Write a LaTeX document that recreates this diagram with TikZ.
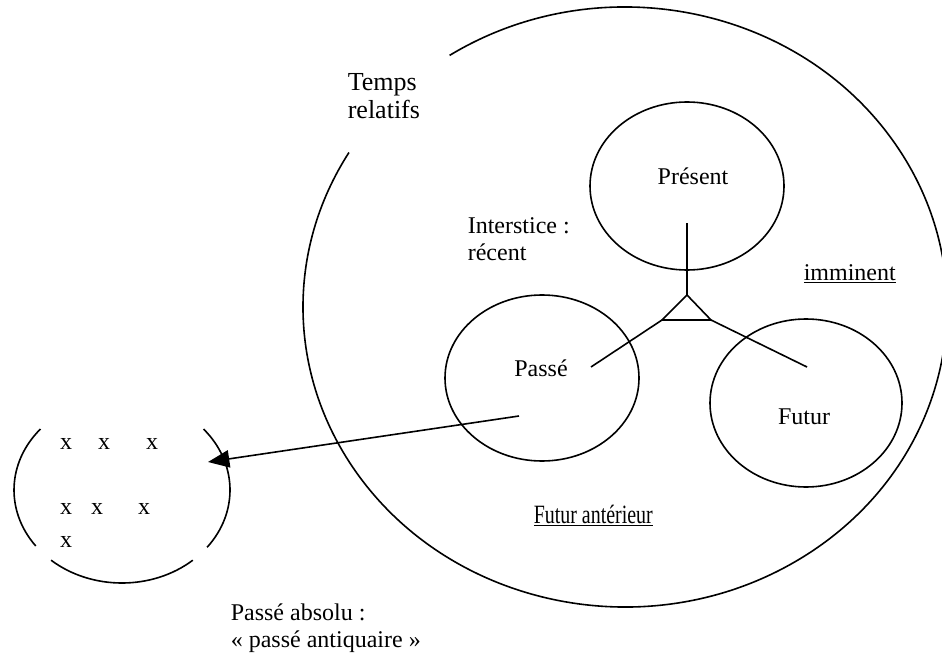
\documentclass[tikz,border=0pt]{standalone}
\usepackage{fontspec}
\setmainfont{Liberation Serif}
\usetikzlibrary{arrows.meta}

\tikzset{
  txt/.style={inner sep=0pt, font=\fontsize{18pt}{20.25pt}\selectfont},
  xmark/.style={txt, anchor=base},
}

\begin{document}
\begin{tikzpicture}[x=0.75pt,y=0.75pt,yscale=-1,xscale=1, line width=1.2pt]
\useasboundingbox (0,0) rectangle (942,656);

%Shape: Ellipse, big (Temps relatifs), open behind its label
\draw (449.6,55.4) arc[start angle=-123, end angle=211, x radius=322, y radius=300];
%Shape: Ellipse, Present
\draw (687,186) ellipse [x radius=97, y radius=84];
%Shape: Ellipse, Passe
\draw (542,378) ellipse [x radius=97, y radius=83];
%Shape: Ellipse, Futur
\draw (806,403) ellipse [x radius=96, y radius=84];
%Shape: Ellipse, small (Passe absolu), three pieces
\draw (40.5,429) arc[start angle=-139, end angle=-217, x radius=108, y radius=93];
\draw (51.1,560.2) arc[start angle=-229, end angle=-311, x radius=108, y radius=93];
\draw (207.1,547.3) arc[start angle=-322, end angle=-401, x radius=108, y radius=93];

%Shape: Triangle
\coordinate (apex) at (687,295);
\coordinate (baseL) at (662,320);
\coordinate (baseR) at (711,320);
\draw (apex) -- (baseL) -- (baseR) -- cycle;
%Straight Lines
\coordinate (presEnd) at (687,223);
\coordinate (passEnd) at (591,367);
\coordinate (futEnd) at (807,367);
\draw (apex) -- (presEnd);
\draw (baseL) -- (passEnd);
\draw (baseR) -- (futEnd);
%Straight Lines, arrow
\coordinate (arrStart) at (519,416);
\coordinate (arrTip) at (208,462);
\draw [-{Triangle[length=16pt,width=13pt]}] (arrStart) -- (arrTip);

% Text Node
\node (temps) [txt, anchor=north west, align=left, font=\fontsize{19.5pt}{20.7pt}\selectfont] at (347,73) {Temps\\relatifs};
\node (present) [txt, anchor=base] at (693,185) {Présent};
\node (interstice) [txt, anchor=north west, align=left] at (467,217) {Interstice :\\récent};
\node (imminent) [txt, anchor=base west] at (803,280) {\underline{imminent}};
\node (passe) [txt, anchor=base] at (541,376) {Passé};
\node (futur) [txt, anchor=base] at (804,424) {Futur};
\node (anterieur) [txt, anchor=base west] at (533,523) {\scalebox{0.83}[1.1]{\underline{Futur antérieur}}};
\node (absolu) [txt, anchor=north west, align=left] at (230,603) {Passé absolu :\\« passé antiquaire »};

% Text Node, marks
\node (x1) [xmark] at (66,449) {x};
\node (x2) [xmark] at (104,449) {x};
\node (x3) [xmark] at (152,449) {x};
\node (x4) [xmark] at (66,514) {x};
\node (x5) [xmark] at (97,514) {x};
\node (x6) [xmark] at (144,514) {x};
\node (x7) [xmark] at (66,547) {x};

\end{tikzpicture}
\end{document}
